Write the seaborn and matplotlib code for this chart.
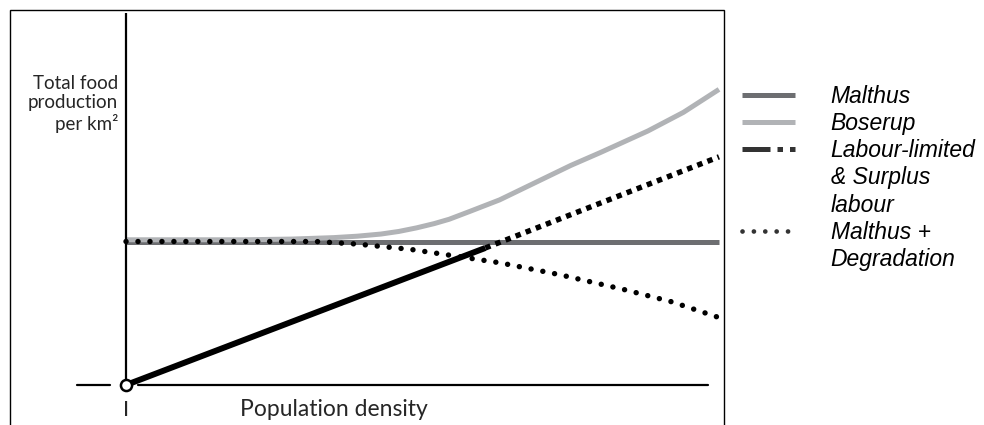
import numpy as np
import matplotlib
matplotlib.use("Agg")
import matplotlib.pyplot as plt
from matplotlib.lines import Line2D
from matplotlib.patches import Rectangle
import seaborn as sns

# --- data (population density 0..10, Malthus level = 1) ---
malthus_x = [0, 10]
malthus_y = [1.0, 1.0]

boserup_x = [0, 2.0, 2.8, 3.5, 3.9, 4.3, 4.6, 4.9, 5.2, 5.45, 5.8, 6.3, 6.7, 7.1, 7.5, 8.0, 8.8, 9.4, 10.0]
boserup_y = [1.012, 1.012, 1.017, 1.027, 1.037, 1.052, 1.07, 1.095, 1.125, 1.155, 1.21, 1.29, 1.37, 1.45, 1.53, 1.62, 1.77, 1.90, 2.06]

labour_x = [0, 6.06]
labour_y = [0.0, 0.955]
surplus_x = [6.06, 10]
surplus_y = [0.955, 1.59]

degr_x = [0, 3.2, 3.9, 4.8, 5.5, 6.3, 7.3, 8.4, 9.2, 10.0]
degr_y = [1.0, 1.0, 0.982, 0.945, 0.902, 0.852, 0.77, 0.665, 0.58, 0.47]

legend_labels = ["Malthus", "Boserup", "Labour-limited", "& Surplus", "labour", "Malthus +", "Degradation"]

MALTHUS_C = "#6d6e71"
BOSERUP_C = "#b1b3b6"

sns.set_style("white")
plt.rcParams["font.family"] = ["Lato", "DejaVu Sans"]

W, H = 984, 425
fig = plt.figure(figsize=(W / 100, H / 100), dpi=100)
ax = fig.add_axes([0, 0, 1, 1])
ax.set_axis_off()

# pixel -> data mapping (origin at px 126/385)
XU, YU = 59.3, 143.5
ax.set_xlim(-126 / XU, (W - 126) / XU)
ax.set_ylim(-(H - 385) / YU, 385 / YU)

# curves
sns.lineplot(x=malthus_x, y=malthus_y, ax=ax, color=MALTHUS_C, lw=3.6, solid_capstyle="butt")
sns.lineplot(x=boserup_x, y=boserup_y, ax=ax, color=BOSERUP_C, lw=3.6, solid_capstyle="butt")
sns.lineplot(x=labour_x, y=labour_y, ax=ax, color="black", lw=4.3, solid_capstyle="butt")
sns.lineplot(x=surplus_x, y=surplus_y, ax=ax, color="black", lw=3.9,
             linestyle=(0, (1, 1)), dash_capstyle="butt")
sns.lineplot(x=degr_x, y=degr_y, ax=ax, color="black", lw=3.9,
             linestyle=(0, (0.01, 2.2)), dash_capstyle="round")

# hand-drawn style axes
ax.plot([0, 0], [0, (385 - 13) / YU], color="black", lw=1.6, solid_capstyle="butt")
ax.plot([(77 - 126) / XU, (110 - 126) / XU], [0, 0], color="black", lw=1.6)
ax.plot([(138 - 126) / XU, (708 - 126) / XU], [0, 0], color="black", lw=1.6)
ax.plot([0], [0], marker="o", ms=8, mfc="white", mec="black", mew=1.8, zorder=5)

ax.text(-8 / XU, (385 - 104) / YU, "Total food\nproduction\nper km²", ha="right", va="center",
        fontsize=13.5, linespacing=1.15)
ax.text(0, -(410 - 385) / YU, "I", ha="center", va="center", fontsize=16)
ax.text((334 - 126) / XU, -(410 - 385) / YU, "Population density", ha="center", va="center", fontsize=16.5)

# outer frame
ax.add_patch(Rectangle((10 / W, -0.1), (724 - 10) / W, 1.1 - 10 / H, transform=ax.transAxes,
                       fill=False, ec="black", lw=1.0, clip_on=False))

# legend
blank = Line2D([], [], color="none")
handles = [
    Line2D([], [], color=MALTHUS_C, lw=3.6, solid_capstyle="butt"),
    Line2D([], [], color=BOSERUP_C, lw=3.6, solid_capstyle="butt"),
    Line2D([], [], color="#333333", lw=3.6, linestyle=(0, (5.6, 1.4, 1.1, 1.4, 1.1, 1.4)), dash_capstyle="butt"),
    blank, blank,
    Line2D([], [], color="#333333", lw=3.4, linestyle=(0, (0.01, 2.4)), dash_capstyle="round"),
    blank,
]
leg = ax.legend(handles, legend_labels, loc="upper left", bbox_to_anchor=(742 / W, 1 - 85 / H),
                bbox_transform=fig.transFigure, frameon=False, borderpad=0, borderaxespad=0,
                handlelength=2.3, handletextpad=1.57, labelspacing=0.18, labelcolor="black",
                prop={"family": "Liberation Sans", "style": "italic", "size": 16.5})

fig.savefig("out.png", dpi=100, facecolor="white")
